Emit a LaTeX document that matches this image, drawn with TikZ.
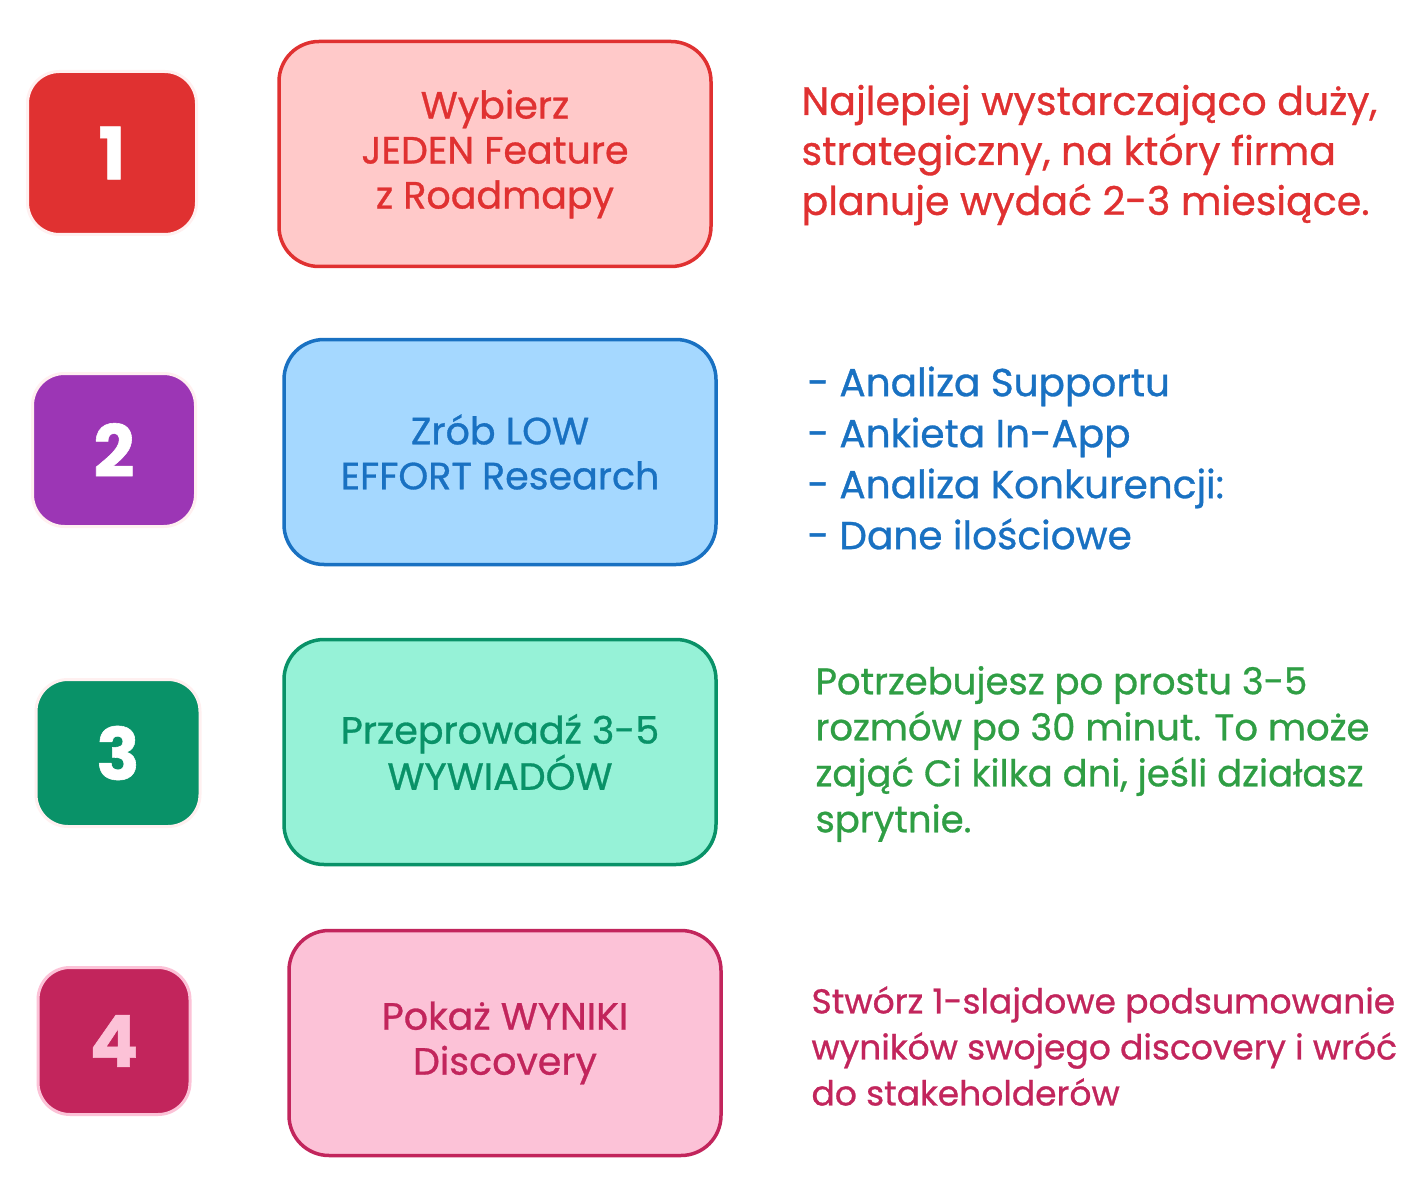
\documentclass[tikz,border=0pt]{standalone}
\usepackage{fontspec}
\setmainfont{Poppins}[FakeBold=0.8]
\definecolor{redS}{HTML}{E03131}
\definecolor{redF}{HTML}{FFC9C9}
\definecolor{blueS}{HTML}{1971C2}
\definecolor{blueF}{HTML}{A5D8FF}
\definecolor{purpleN}{HTML}{9C36B5}
\definecolor{greenS}{HTML}{099268}
\definecolor{greenF}{HTML}{96F2D7}
\definecolor{greenT}{HTML}{2F9E44}
\definecolor{pinkS}{HTML}{C2255C}
\definecolor{pinkF}{HTML}{FCC2D7}
\definecolor{faint}{HTML}{FFF0F0}
\tikzset{
  bigbox/.style={draw, line width=3.5pt, rounded corners=40pt, minimum width=432pt, minimum height=225pt, align=center, font=\fontsize{38}{45}\selectfont},
  numbox/.style={line width=3pt, rounded corners=32pt, font=\fontsize{72}{72}\selectfont\bfseries, text=white},
  sidetext/.style={anchor=west, align=left, font=\fontsize{33}{50}\selectfont},
}
\begin{document}
\begin{tikzpicture}[x=1pt,y=-1pt]
\useasboundingbox[fill=white] (0,0) rectangle (1428,1201);
% row 1
\node[numbox, fill=redS, draw=faint, minimum width=169pt, minimum height=163pt] (n1) at (112,153) {1};
\node[bigbox, fill=redF, draw=redS, text=redS] (b1) at (495,154) {Wybierz\\JEDEN Feature\\z Roadmapy};
\node[sidetext, text=redS, font=\fontsize{39.5}{50}\selectfont] (t1) at (798,155) {Najlepiej wystarczająco duży,\\strategiczny, na który firma\\planuje wydać 2-3 miesiące.};
% row 2
\node[numbox, fill=purpleN, draw=faint, minimum width=163pt, minimum height=153pt] (n2) at (114,450) {2};
\node[bigbox, fill=blueF, draw=blueS, text=blueS] (b2) at (500,452) {Zrób LOW\\EFFORT Research};
\node[sidetext, text=blueS, font=\fontsize{39}{51}\selectfont] (t2) at (804,458) {- Analiza Supportu\\- Ankieta In-App\\- Analiza Konkurencji:\\- Dane ilościowe};
% row 3
\node[numbox, fill=greenS, draw=faint, minimum width=164pt, minimum height=147pt] (n3) at (118,753) {3};
\node[bigbox, fill=greenF, draw=greenS, text=greenS] (b3) at (500,752) {Przeprowadź 3-5\\WYWIADÓW};
\node[sidetext, text=greenT, font=\fontsize{37}{46}\selectfont] (t3) at (812,754) {Potrzebujesz po prostu 3-5\\rozmów po 30 minut. To może\\zająć Ci kilka dni, jeśli działasz\\sprytnie.};
% row 4
\node[numbox, fill=pinkS, draw=pinkF, text=pinkF, minimum width=152pt, minimum height=147pt] (n4) at (114,1041) {4};
\node[bigbox, fill=pinkF, draw=pinkS, text=pinkS] (b4) at (505,1043) {Pokaż WYNIKI\\Discovery};
\node[sidetext, text=pinkS, font=\fontsize{34.5}{46}\selectfont] (t4) at (808,1046) {Stwórz 1-slajdowe podsumowanie\\wyników swojego discovery i wróć\\do stakeholderów};
\end{tikzpicture}
\end{document}
